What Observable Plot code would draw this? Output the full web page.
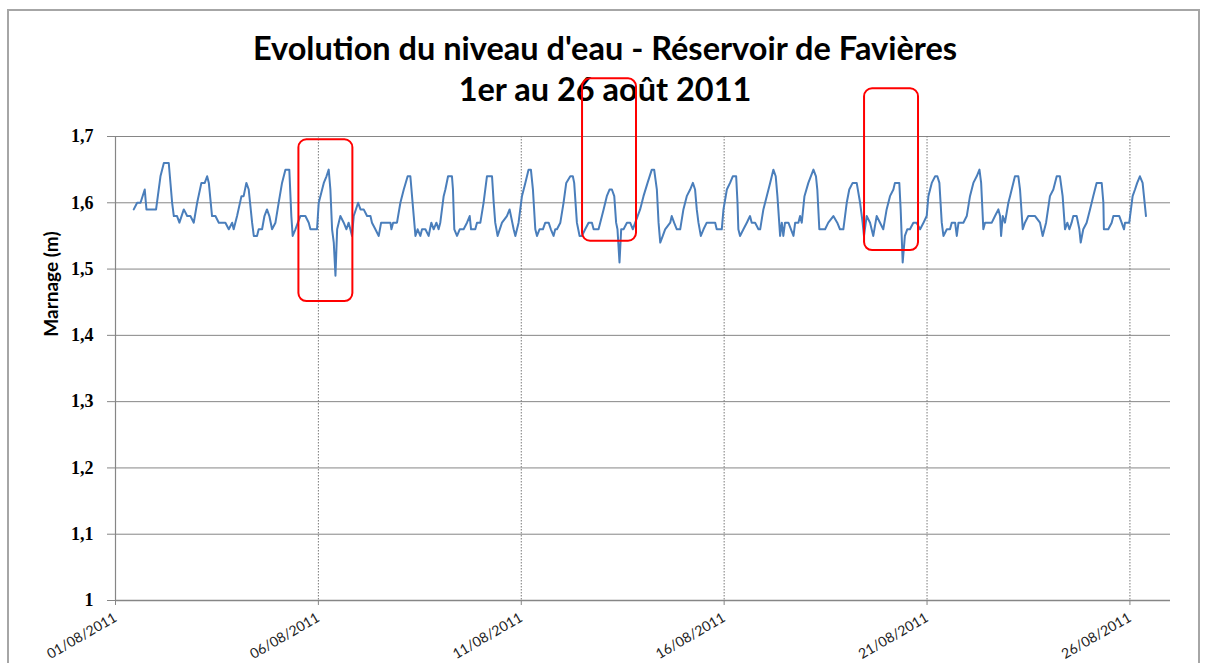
<!DOCTYPE html>
<html><head><meta charset="utf-8">
<script src="https://cdn.jsdelivr.net/npm/d3@7"></script>
<script src="https://cdn.jsdelivr.net/npm/@observablehq/plot@0.6"></script>
<style>
body{margin:0;background:#fff;width:1210px;height:663px;overflow:hidden;position:relative;font-family:Lato,sans-serif}
#frame{position:absolute;left:7px;top:9px;width:1193px;height:720px;border:2px solid #a6a6a6;box-sizing:border-box}
#title{position:absolute;left:0;top:27px;width:1210px;text-align:center;font-family:Lato;font-weight:bold;font-size:32.5px;line-height:41px;color:#000}
#ylabel{position:absolute;left:50px;top:284px;transform:translate(-50%,-50%) rotate(-90deg);font-family:Lato;font-weight:bold;font-size:19px;white-space:nowrap}
#chart{position:absolute;left:0;top:110px}
</style></head><body>
<div id="frame"></div>
<div id="title">Evolution du niveau d'eau - Réservoir de Favières<br>1er au 26 août 2011</div>
<div id="ylabel">Marnage (m)</div>
<div id="chart"></div>
<script>
// hours since 01/08/2011 00:00
const hours = [
10.8,12.8,14.8,17.3,18.3,24.0,26.6,28.6,31.5,33.5,34.5,36.4,37.8,40.4,42.4,44.3,46.3,48.3,50.8,52.8,54.2,55.2,57.1,59.1,61.1,65.0,67.0,69.0,69.9,71.9,74.5,75.8,77.4,78.8,80.8,81.8,83.7,84.7,86.7,88.1,89.6,91.0,92.6,94.6,96.5,98.5,100.5,102.8,104.0,104.8,106.4,109.3,112.3,114.3,
115.3,118.2,119.2,120.2,121.2,123.2,124.8,126.1,127.1,128.1,129.1,130.1,131.1,133.0,135.0,136.6,137.9,138.9,139.9,140.9,143.5,144.9,146.8,148.8,150.8,151.7,153.7,155.7,157.1,162.6,163.2,164.2,166.5,168.5,170.5,172.8,174.4,176.4,177.4,178.7,180.3,181.3,183.3,185.2,186.8,188.2,189.8,191.1,192.1,194.1,195.1,196.7,199.0,199.6,200.4,202.0,203.6,205.9,207.9,209.5,210.3,212.8,213.8,215.8,217.7,219.7,222.7,223.7,224.6,226.0,228.6,231.5,233.1,
235.5,236.5,238.4,240.4,242.4,244.3,245.7,246.9,248.3,249.3,250.8,252.8,254.2,256.2,257.5,259.1,260.1,261.1,263.1,265.0,266.6,269.0,270.5,271.3,272.9,274.5,275.9,277.8,279.8,281.8,282.8,285.7,286.7,288.7,290.6,292.2,293.6,295.0,296.1,296.9,298.1,299.1,300.5,302.5,304.4,306.0,307.4,310.3,312.3,314.7,317.2,318.6,320.2,321.2,322.2,323.7,325.1,328.1,329.0,330.4,332.0,334.0,335.9,337.9,339.9,341.5,342.8,343.8,344.8,346.2,347.8,349.7,
354.7,355.6,358.6,359.6,361.6,363.5,365.1,367.1,367.9,368.4,369.4,371.4,373.4,375.3,376.3,378.3,380.3,381.3,383.2,385.2,387.2,389.1,390.5,391.5,393.1,394.1,395.0,396.0,398.0,401.0,402.0,403.9,404.9,405.9,407.5,409.8,412.8,414.3,415.1,416.3,419.7,421.6,424.6,426.9,428.5,430.5,432.5,434.0,436.0,438.4,440.4,441.9,442.7,444.3,446.3,448.2,450.2,452.2,454.1,456.1,458.1,460.1,461.0,463.6,464.4,465.0,465.6,466.9,468.3,469.9,471.9,473.8,
475.9,477.9,479.8,480.8,482.8,484.8,486.1,487.3,488.7,489.7,491.7,493.6,494.6,496.6,497.6,498.6,501.5,503.5,505.4,507.4,509.4,511.0,512.0,513.3,514.3,518.3,520.2,522.2,523.2,523.8,524.8,526.1,528.1,529.1,532.0,534.0,535.0,536.6,537.9,539.9,543.9,546.8,548.4,550.4,552.7,554.7,556.7,558.6,560.2,561.6,563.0,564.2,565.5,566.5,568.5,570.1,570.9,572.4,574.4,576.4,578.3,580.3,583.3,584.3,584.6,587.2,589.2,590.2,593.7,595.1,596.5,597.1,599.6,601.6,603.0,604.3,605.9,607.5,609.5
];
// water level (m)
const level = [
1.59,1.60,1.60,1.62,1.59,1.59,1.64,1.66,1.66,1.60,1.58,1.58,1.57,1.59,1.58,1.58,1.57,1.60,1.63,1.63,1.64,1.63,1.58,1.58,1.57,1.57,1.56,1.57,1.56,1.58,1.61,1.61,1.63,1.62,1.57,1.55,1.55,1.56,1.56,1.58,1.59,1.58,1.56,1.57,1.60,1.63,1.65,1.65,1.58,1.55,1.56,1.58,1.58,1.57,
1.56,1.56,1.56,1.60,1.61,1.63,1.64,1.65,1.62,1.56,1.54,1.49,1.56,1.58,1.57,1.56,1.57,1.56,1.55,1.58,1.60,1.59,1.59,1.58,1.58,1.57,1.56,1.55,1.57,1.57,1.56,1.57,1.57,1.60,1.62,1.64,1.64,1.58,1.55,1.56,1.55,1.56,1.56,1.55,1.57,1.56,1.57,1.56,1.57,1.61,1.62,1.64,1.64,1.62,1.56,1.55,1.56,1.56,1.57,1.58,1.56,1.56,1.57,1.57,1.60,1.64,1.64,1.60,1.57,1.55,1.57,1.58,1.59,
1.56,1.55,1.57,1.61,1.63,1.65,1.65,1.62,1.56,1.55,1.56,1.56,1.57,1.57,1.56,1.55,1.56,1.56,1.57,1.60,1.63,1.64,1.64,1.63,1.57,1.55,1.55,1.56,1.57,1.57,1.56,1.56,1.57,1.59,1.61,1.62,1.62,1.61,1.57,1.56,1.51,1.56,1.56,1.57,1.57,1.56,1.57,1.59,1.61,1.63,1.65,1.65,1.62,1.57,1.54,1.55,1.56,1.57,1.58,1.57,1.56,1.56,1.59,1.61,1.62,1.63,1.62,1.59,1.57,1.55,1.56,1.57,
1.57,1.56,1.56,1.59,1.62,1.63,1.64,1.64,1.60,1.56,1.55,1.56,1.57,1.58,1.57,1.57,1.56,1.56,1.59,1.61,1.63,1.65,1.64,1.61,1.55,1.57,1.55,1.57,1.57,1.55,1.57,1.57,1.58,1.57,1.61,1.63,1.65,1.64,1.62,1.56,1.56,1.57,1.58,1.57,1.56,1.56,1.60,1.62,1.63,1.63,1.60,1.57,1.55,1.58,1.57,1.55,1.58,1.57,1.56,1.59,1.61,1.62,1.63,1.63,1.59,1.55,1.51,1.55,1.56,1.56,1.57,1.57,
1.56,1.57,1.58,1.61,1.63,1.64,1.64,1.63,1.57,1.55,1.56,1.56,1.57,1.57,1.55,1.57,1.57,1.58,1.61,1.63,1.64,1.65,1.63,1.56,1.57,1.57,1.58,1.59,1.58,1.55,1.58,1.57,1.60,1.61,1.64,1.64,1.62,1.56,1.57,1.58,1.58,1.57,1.55,1.57,1.61,1.62,1.64,1.64,1.61,1.56,1.57,1.56,1.57,1.58,1.58,1.56,1.54,1.56,1.57,1.59,1.61,1.63,1.63,1.60,1.56,1.56,1.57,1.58,1.58,1.57,1.56,1.57,1.57,1.61,1.62,1.63,1.64,1.63,1.58
];
// y ticks
const yTicks = [1, 1.1, 1.2, 1.3, 1.4, 1.5, 1.6, 1.7];
// x ticks (days after 01/08/2011)
const xTickDays = [0, 5, 10, 15, 20, 25];
// red annotation boxes (days, metres)
const boxStartDay = [4.52, 11.51, 18.46];
const boxEndDay   = [5.85, 12.84, 19.79];
const boxTop      = [1.695, 1.787, 1.772];
const boxBottom   = [1.451, 1.542, 1.528];

const t0 = Date.UTC(2011, 7, 1);
const H = 3600e3, D = 86400e3;
const data = hours.map((h, i) => ({date: new Date(t0 + h * H), level: level[i]}));
const boxes = boxStartDay.map((d, i) => ({x1: new Date(t0 + d * D), x2: new Date(t0 + boxEndDay[i] * D), y1: boxBottom[i], y2: boxTop[i]}));
const xTicks = xTickDays.map(d => new Date(t0 + d * D));
const fmtY = v => String(Math.round(v * 10) / 10).replace(".", ",");
const grid = "#868686";

const chart = Plot.plot({
  width: 1210, height: 553,
  marginLeft: 115, marginRight: 40, marginTop: 26, marginBottom: 63,
  style: {overflow: "visible", background: "transparent"},
  x: {type: "utc", domain: [new Date(t0), new Date(t0 + 26 * D)]},
  y: {domain: [1, 1.7]},
  marks: [
    Plot.gridY(yTicks, {stroke: grid, strokeOpacity: 1, strokeWidth: 1}),
    Plot.gridX(xTicks, {stroke: "#7a7a7a", strokeOpacity: 1, strokeWidth: 1, strokeDasharray: "1.5,1.5"}),
    Plot.ruleX([new Date(t0)], {stroke: grid, strokeWidth: 1.2}),
    Plot.ruleY([1], {stroke: grid, strokeWidth: 1.5}),
    Plot.axisY(yTicks, {tickSize: 8, tickPadding: 14, tickFormat: fmtY, label: null,
      stroke: grid, fill: "#000", fontSize: 18, fontWeight: "bold", fontFamily: "Liberation Serif"}),
    Plot.axisX(xTicks, {tickSize: 5, tickPadding: 11, tickRotate: -30, tickFormat: d3.utcFormat("%d/%m/%Y"), label: null,
      stroke: grid, fill: "#222", fontSize: 14, fontFamily: "Lato"}),
    Plot.line(data, {x: "date", y: "level", stroke: "#4a7ebb", strokeWidth: 2}),
    Plot.rect(boxes, {x1: "x1", x2: "x2", y1: "y1", y2: "y2", fill: "none", stroke: "#ff0000", strokeWidth: 2, rx: 8})
  ]
});
document.getElementById("chart").appendChild(chart);
</script>
</body></html>
